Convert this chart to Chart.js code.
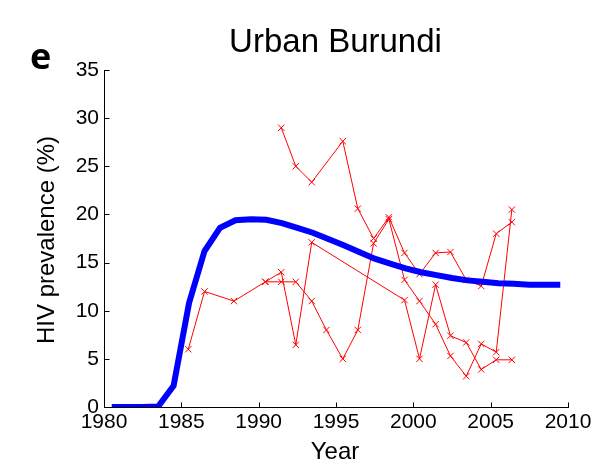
<!DOCTYPE html>
<html>
<head>
<meta charset="utf-8">
<script src="https://cdn.jsdelivr.net/npm/chart.js@4.4.1/dist/chart.umd.min.js"></script>
<style>
    html, body { margin: 0; padding: 0; background: #fff; }
    canvas { display: block; }
</style>
</head>
<body>
<canvas id="myChart" width="599" height="464"></canvas>
<script>
// model fit (blue curve)
var modelYears = [1980.5, 1981.5, 1982.5, 1983.5, 1984.5, 1985.5, 1986.5, 1987.5, 1988.5, 1989.5,
    1990.5, 1991.5, 1992.5, 1993.5, 1994.5, 1995.5, 1996.5, 1997.5, 1998.5, 1999.5,
    2000.5, 2001.5, 2002.5, 2003.5, 2004.5, 2005.5, 2006.5, 2007.5, 2008.5, 2009.5];
var modelHiv = [0, 0, 0, 0.05, 2.2, 10.8, 16.2, 18.6, 19.4, 19.5,
    19.45, 19.1, 18.6, 18.1, 17.45, 16.8, 16.1, 15.4, 14.9, 14.4,
    14.0, 13.7, 13.4, 13.15, 13.0, 12.85, 12.8, 12.7, 12.7, 12.7];

// antenatal clinic sites (red crosses)
var siteAYears = [1985.45, 1986.5, 1988.4, 1990.43, 1991.46, 1992.4, 1993.43, 1999.43, 2000.4, 2001.44, 2002.4, 2003.42, 2004.39, 2005.36, 2006.37];
var siteAHiv = [6.0, 12.0, 11.0, 13.0, 14.0, 6.45, 17.1, 11.1, 5.0, 12.7, 7.4, 6.7, 3.9, 4.9, 4.9];

var siteBYears = [1990.43, 1991.46, 1992.4, 1993.43, 1994.38, 1995.44, 1996.41, 1997.43, 1998.42, 1999.43, 2000.4, 2001.44, 2002.4, 2003.42, 2004.39, 2005.36, 2006.37];
var siteBHiv = [13.0, 13.0, 13.0, 11.0, 8.0, 5.0, 8.0, 17.0, 19.5, 13.2, 11.0, 8.6, 5.3, 3.2, 6.55, 5.7, 20.5];

var siteCYears = [1991.46, 1992.4, 1993.43, 1995.44, 1996.41, 1997.43, 1998.42, 1999.43, 2000.4, 2001.44, 2002.4, 2003.42, 2004.39, 2005.36, 2006.37];
var siteCHiv = [29.0, 25.0, 23.35, 27.6, 20.6, 17.5, 19.7, 16.0, 13.8, 16.0, 16.1, 13.2, 12.56, 18.0, 19.2];

var xTicks = [1980, 1985, 1990, 1995, 2000, 2005, 2010];
var yTicks = [0, 5, 10, 15, 20, 25, 30, 35];

var fontName = "'Liberation Sans', Arial, sans-serif";

function toPoints(xs, ys) {
    var out = [];
    for (var i = 0; i < xs.length; i++) {
        out.push({ x: xs[i], y: ys[i] });
    }
    return out;
}

function siteDataset(xs, ys) {
    return {
        data: toPoints(xs, ys),
        borderColor: '#ff0000',
        backgroundColor: '#ff0000',
        borderWidth: 1,
        pointStyle: 'crossRot',
        pointRadius: 4.5,
        pointBorderWidth: 1,
        pointBorderColor: '#ff0000',
        tension: 0
    };
}

// axes with inward ticks, title and labels
var decorPlugin = {
    id: 'decor',
    beforeDatasetsDraw: function (chart) {
        var ctx = chart.ctx;
        var area = chart.chartArea;
        var xs = chart.scales.x;
        var ys = chart.scales.y;
        var left = Math.round(area.left) + 0.5;
        var bottom = Math.round(area.bottom) + 0.5;
        ctx.save();
        ctx.strokeStyle = '#000';
        ctx.lineWidth = 1;
        ctx.beginPath();
        ctx.moveTo(left, Math.round(area.top));
        ctx.lineTo(left, bottom);
        ctx.lineTo(Math.round(area.right) + 1, bottom);
        xTicks.forEach(function (v) {
            var px = Math.round(xs.getPixelForValue(v)) + 0.5;
            ctx.moveTo(px, bottom);
            ctx.lineTo(px, bottom - 5);
        });
        yTicks.forEach(function (v) {
            var py = Math.round(ys.getPixelForValue(v)) + 0.5;
            ctx.moveTo(left, py);
            ctx.lineTo(left + 5, py);
        });
        ctx.stroke();
        ctx.restore();
    },
    afterDraw: function (chart) {
        var ctx = chart.ctx;
        ctx.save();
        ctx.fillStyle = '#000';
        ctx.textAlign = 'center';
        ctx.textBaseline = 'alphabetic';
        ctx.font = '33px ' + fontName;
        ctx.fillText('Urban Burundi', 335.5, 52);

        ctx.textAlign = 'left';
        ctx.font = "bold 36px 'Open Sans', sans-serif";
        ctx.fillText('e', 30, 69);

        ctx.textAlign = 'center';
        ctx.textBaseline = 'middle';
        ctx.font = '24px ' + fontName;
        ctx.fillText('Year', 335, 452);

        ctx.translate(47, 240);
        ctx.rotate(-Math.PI / 2);
        ctx.fillText('HIV prevalence (%)', 0, 0);
        ctx.restore();
    }
};

var ctx = document.getElementById('myChart');

new Chart(ctx, {
    type: 'line',
    data: {
        datasets: [
            {
                data: toPoints(modelYears, modelHiv),
                borderColor: '#0000ff',
                borderWidth: 6,
                pointRadius: 0,
                tension: 0,
                fill: false
            },
            siteDataset(siteAYears, siteAHiv),
            siteDataset(siteBYears, siteBHiv),
            siteDataset(siteCYears, siteCHiv)
        ]
    },
    options: {
        responsive: false,
        animation: false,
        devicePixelRatio: 1,
        layout: {
            padding: { left: 0, top: 70, right: 31, bottom: 0 }
        },
        plugins: {
            legend: { display: false },
            tooltip: { enabled: false }
        },
        scales: {
            x: {
                type: 'linear',
                min: 1980,
                max: 2010,
                afterFit: function (scale) { scale.height = 57; },
                afterBuildTicks: function (scale) {
                    scale.ticks = xTicks.map(function (v) { return { value: v }; });
                },
                grid: { display: false, drawTicks: false },
                border: { display: false },
                ticks: {
                    color: '#000',
                    padding: 3,
                    maxRotation: 0,
                    font: { family: fontName, size: 21 },
                    callback: function (value) { return String(value); }
                }
            },
            y: {
                type: 'linear',
                min: 0,
                max: 35,
                afterFit: function (scale) { scale.width = 104; },
                afterBuildTicks: function (scale) {
                    scale.ticks = yTicks.map(function (v) { return { value: v }; });
                },
                grid: { display: false, drawTicks: false },
                border: { display: false },
                ticks: {
                    color: '#000',
                    padding: 5,
                    font: { family: fontName, size: 21 },
                    callback: function (value) { return String(value); }
                }
            }
        }
    },
    plugins: [decorPlugin]
});
</script>
</body>
</html>
